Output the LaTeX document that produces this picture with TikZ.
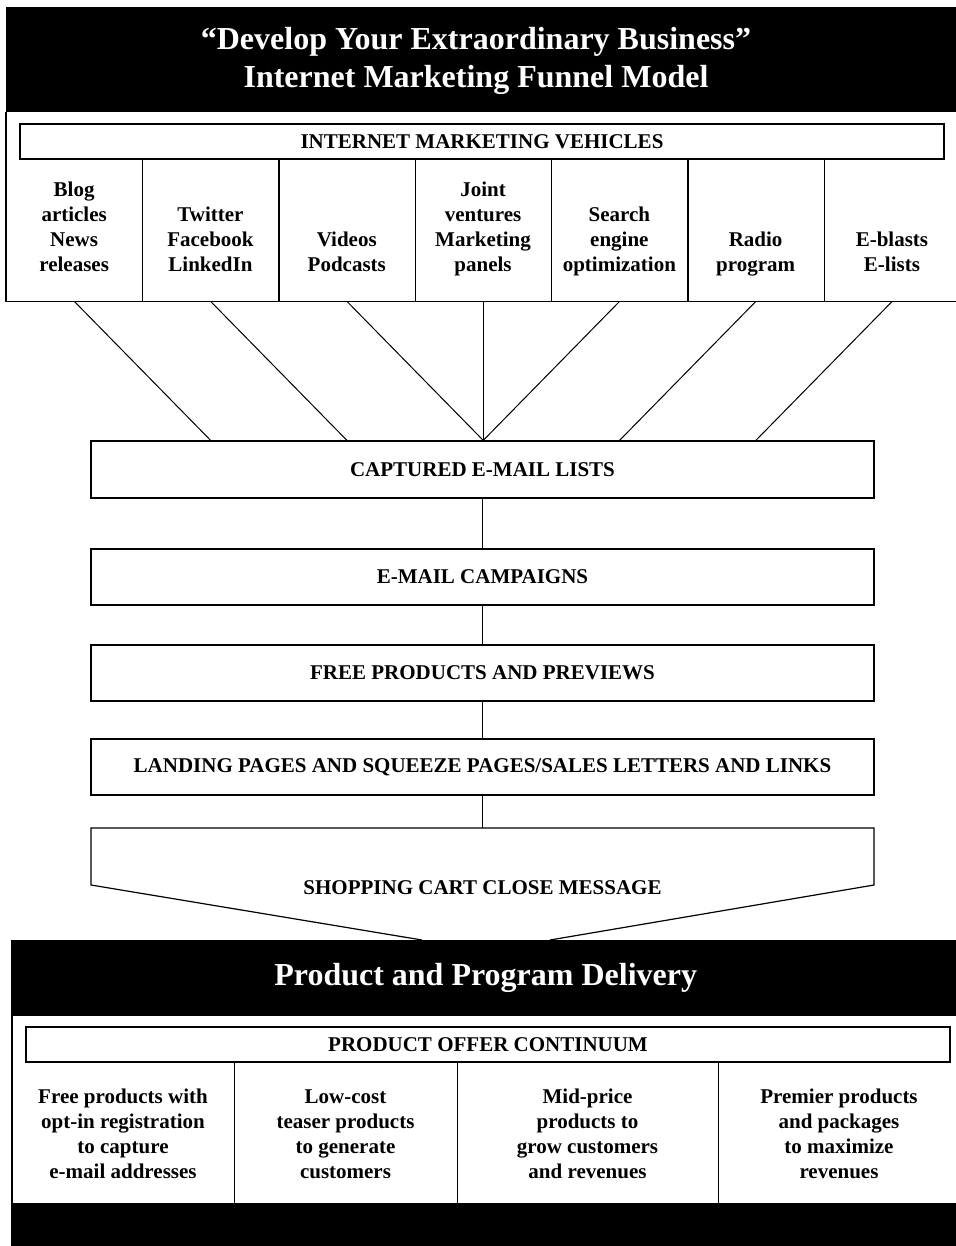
\documentclass[tikz,border=0pt]{standalone}
\usepackage{fontspec}
\setmainfont{Liberation Serif}
\begin{document}
\begin{tikzpicture}[x=1pt,y=-1pt,
  rule/.style={line width=1.2pt},
  conn/.style={line width=1pt},
  lbl/.style={font=\fontsize{21}{25}\selectfont\bfseries,align=center,inner sep=0pt},
  bigtitle/.style={font=\fontsize{32}{38}\selectfont\bfseries,align=center,text=white},
  band/.style={fill=black,inner sep=0pt,anchor=north west},
  box/.style={draw,rule,lbl,minimum width=783pt,minimum height=56pt},
  headbox/.style={draw,rule,lbl,minimum width=924pt,minimum height=35pt},
  cell/.style={inner sep=0pt,anchor=north west,minimum height=142pt,minimum width=136.3pt},
  pcell/.style={inner sep=0pt,anchor=north west,minimum height=141pt}
]
\useasboundingbox (0,0) rectangle (955,1246);

% ---- top band and marketing vehicles ----
\node[band,minimum width=955pt,minimum height=105pt] (head) at (6,7) {};
\node[bigtitle,inner sep=0pt] (title) at (476,61)
  {“Develop Your Extraordinary Business”\\Internet Marketing Funnel Model};
\node[headbox] (veh) at (482,141.5) {INTERNET MARKETING VEHICLES};

\foreach \i in {1,...,7}
  \node[cell] (c\i) at ({6+136.3*(\i-1)},159) {};

\draw[rule] (head.south west) -- (c1.south west) -- (c7.south east);
\foreach \i in {1,...,6}
  \draw[rule] (c\i.north east) -- (c\i.south east);

% labels sit on a common last baseline
\node[lbl,anchor=base] (v1) at (74.15,271.7) {Blog\\articles\\News\\releases};
\node[lbl,anchor=base] (v2) at (210.45,271.7) {Twitter\\Facebook\\LinkedIn};
\node[lbl,anchor=base] (v3) at (346.75,271.7) {Videos\\Podcasts};
\node[lbl,anchor=base] (v4) at (483.05,271.7) {Joint\\ventures\\Marketing\\panels};
\node[lbl,anchor=base] (v5) at (619.35,271.7) {Search\\engine\\optimization};
\node[lbl,anchor=base] (v6) at (755.65,271.7) {Radio\\program};
\node[lbl,anchor=base] (v7) at (891.95,271.7) {E-blasts\\E-lists};

% ---- funnel ----
\node[box,minimum height=57pt] (cap) at (482.5,469.5) {CAPTURED E-MAIL LISTS};
\node[box] (camp) at (482.5,577) {E-MAIL CAMPAIGNS};
\node[box] (free) at (482.5,673) {FREE PRODUCTS AND PREVIEWS};
\node[box] (land) at (482.5,767) {LANDING PAGES AND SQUEEZE PAGES/SALES LETTERS AND LINKS};

\draw[conn] (c1.south) -- (cap.north -| c2.south);
\draw[conn] (c2.south) -- (cap.north -| c3.south);
\draw[conn] (c3.south) -- (cap.north -| c4.south);
\draw[conn] (c4.south) -- (cap.north -| c4.south);
\draw[conn] (c5.south) -- (cap.north -| c4.south);
\draw[conn] (c6.south) -- (cap.north -| c5.south);
\draw[conn] (c7.south) -- (cap.north -| c6.south);

\coordinate (carttop) at (482.5,828);
\coordinate (cartl) at (422,940);
\coordinate (cartr) at (550,940);
\draw[rule] (cartl) -- (91,885) -- (91,828) -- (874,828) -- (874,885) -- (cartr);
\node[lbl] (cart) at (482.5,888) {SHOPPING CART CLOSE MESSAGE};

\draw[conn] (cap.south) -- (camp.north);
\draw[conn] (camp.south) -- (free.north);
\draw[conn] (free.south) -- (land.north);
\draw[conn] (land.south) -- (carttop);

% ---- delivery band and product offers ----
\node[band,bigtitle,minimum width=949pt,minimum height=76pt] (deliv) at (11,940)
  {Product and Program Delivery};
\node[headbox] (offer) at (488,1044.5) {PRODUCT OFFER CONTINUUM};

\node[pcell,minimum width=222pt] (p1) at (12,1062) {};
\node[pcell,minimum width=223pt] (p2) at (234,1062) {};
\node[pcell,minimum width=261pt] (p3) at (457,1062) {};
\node[pcell,minimum width=242pt] (p4) at (718,1062) {};

\draw[rule] (deliv.south west -| p1.west) -- (p1.south west);
\foreach \i in {1,2,3}
  \draw[rule] (p\i.north east) -- (p\i.south east);
\node[band,minimum width=949pt,minimum height=45pt] (foot) at (11,1203) {};

\node[lbl,anchor=base] (o1) at (123,1178.3) {Free products with\\opt-in registration\\to capture\\e-mail addresses};
\node[lbl,anchor=base] (o2) at (345.5,1178.3) {Low-cost\\teaser products\\to generate\\customers};
\node[lbl,anchor=base] (o3) at (587.5,1178.3) {Mid-price\\products to\\grow customers\\and revenues};
\node[lbl,anchor=base] (o4) at (839,1178.3) {Premier products\\and packages\\to maximize\\revenues};
\end{tikzpicture}
\end{document}
